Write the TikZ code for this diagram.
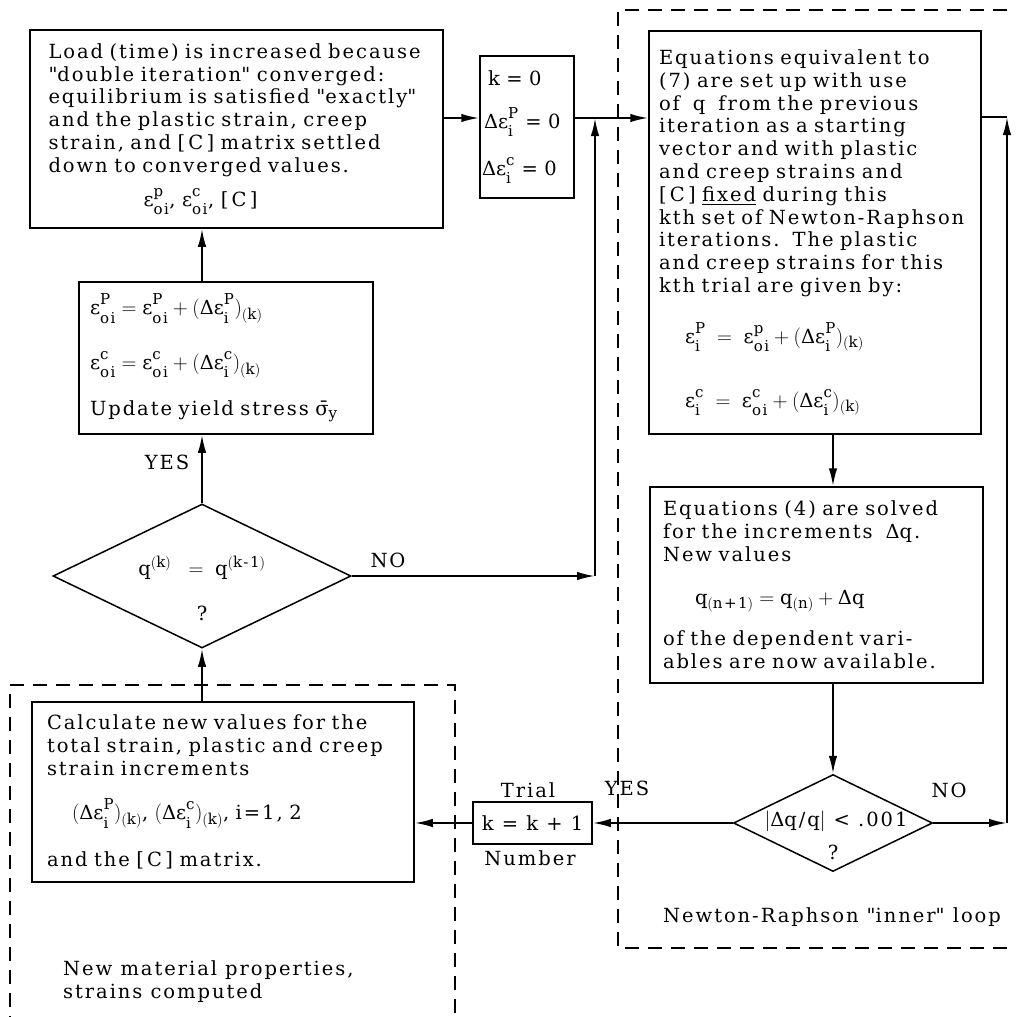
\documentclass[tikz,border=0pt]{standalone}
\usepackage{amsmath}
\usepackage{fontspec}
\setmainfont[LetterSpace=10]{DejaVu Serif}
\usetikzlibrary{arrows.meta,shapes.geometric}
\DeclareMathSizes{19.5}{19.5}{15}{12}
\font\dqfont="DejaVu Serif" at 19.5pt
\newcommand{\dq}{{\dqfont\char34}}
\newcommand{\Ep}[2]{\text{ε}^{\raisebox{2.5pt}{$\scriptstyle\text{#1}$}}_{\raisebox{-3pt}{$\scriptstyle\text{#2}$}}}
\newcommand{\Dl}{\text{Δ}}
\tikzset{
  every node/.style={font=\fontsize{19.5}{22.8}\selectfont, execute at begin node={\lineskiplimit=-100pt\relax}},
  box/.style={draw, line width=1.5pt, rectangle, inner sep=0pt, align=left},
  dia/.style={draw, diamond, line width=1.5pt, inner sep=0pt},
  conn/.style={line width=2pt},
  arr/.style={conn, -{Latex[length=18pt,width=8.5pt]}},
  grp/.style={line width=1.2pt, dash pattern=on 14pt off 9pt},
  lbl/.style={inner sep=0pt}
}
\begin{document}
\begin{tikzpicture}[x=1pt,y=-1pt]
\useasboundingbox (0,0) rectangle (1016,1017);

% dashed groups
\draw[grp] (10,1030) -- (10,685) -- (455,685) -- (455,1030);
\draw[grp] (1030,10) -- (618,10) -- (618,948) -- (1030,948);

% boxes
\node[box, minimum width=413pt, minimum height=198pt, text width=376pt] (load) at (236.5,129)
 {Load (time) is increased because\\
  \dq double iteration\dq{} converged:\\
  equilibrium is satisfied \dq exactly\dq\\
  and the plastic strain, creep\\
  strain, and [\,C\,] matrix settled\\
  down to converged values.\\[11pt]
  \hspace*{95pt}$\Ep{p}{oi}$, $\Ep{c}{oi}$, [\,C\,]};

\node[box, minimum width=94pt, minimum height=142pt, text width=90pt] (kzero) at (527,127)
 {\hspace*{6pt}k = 0\\[20pt]
  \hspace*{2pt}$\Dl\Ep{P}{i}$ = 0\\[24pt]
  $\Dl\Ep{c}{i}$ = 0};

\node[box, minimum width=332pt, minimum height=403pt, text width=312pt] (eqs) at (815,232.5)
 {Equations equivalent to\\
  (7) are set up with use\\
  of\ \ q\ \ from the previous\\
  iteration as a starting\\
  vector and with plastic\\
  and creep strains and\\
  {[}\,C\,] \underline{fixed} during this\\
  kth set of Newton-Raphson\\
  iterations.\ \ The plastic\\
  and creep strains for this\\
  kth trial are given by:\\[28pt]
  \hspace*{26pt}$\Ep{P}{i} \;=\; \Ep{p}{oi} + (\Dl\Ep{P}{i})_{(\text{k})}$\\[41pt]
  \hspace*{26pt}$\Ep{c}{i} \;=\; \Ep{c}{oi} + (\Dl\Ep{c}{i})_{(\text{k})}$};

\node[box, minimum width=333pt, minimum height=196pt, text width=307pt] (solve) at (816.5,585)
 {Equations (4) are solved\\
  for the increments\ \ \Dl q.\\
  New values\\[20pt]
  \hspace*{32pt}$\text{q}_{(\text{n+1})} = \text{q}_{(\text{n})} + \Dl\text{q}$\\[19pt]
  of the dependent vari-\\
  ables are now available.};

\node[box, minimum width=294pt, minimum height=152pt, text width=272pt] (update) at (226,358)
 {$\Ep{P}{oi} = \Ep{P}{oi} + (\Dl\Ep{P}{i})_{(\text{k})}$\\[32pt]
  $\Ep{c}{oi} = \Ep{c}{oi} + (\Dl\Ep{c}{i})_{(\text{k})}$\\[23pt]
  Update yield stress $\text{σ̄}_{\text{y}}$};

\node[dia, minimum width=298pt, minimum height=144pt] (test) at (202,576) {};
\node[lbl] (testtxt) at (202,568) {$\text{q}^{(\text{k})}\;\;=\;\text{q}^{(\text{k-1})}$};
\node[lbl] (testq) at (202,613) {?};

\node[dia, minimum width=199pt, minimum height=97pt] (chk) at (833,823) {};
\node[lbl] (chktxt) at (836,821) {$|$\Dl q/q$|$ < .001};
\node[lbl] (chkq) at (833,852) {?};

\node[box, minimum width=382pt, minimum height=180pt, text width=352pt] (calc) at (223,792)
 {Calculate new values for the\\
  total strain, plastic and creep\\
  strain increments\\[22pt]
  \hspace*{25pt}$(\Dl\Ep{P}{i})_{(\text{k})}$, $(\Dl\Ep{c}{i})_{(\text{k})}$, i=1, 2\\[24pt]
  and the [\,C\,] matrix.};

\node[box, minimum width=119pt, minimum height=42pt] (kinc) at (532.5,823) {k = k + 1};
\node[lbl] (trial) at (528,790) {Trial};
\node[lbl] (number) at (530,858) {Number};

% labels
\node[lbl] (yes1) at (167,462) {YES};
\node[lbl] (no1) at (388,560) {NO};
\node[lbl] (yes2) at (627,788) {YES};
\node[lbl] (no2) at (949,790) {NO};
\node[lbl] (nrlbl) at (832,917) {Newton-Raphson \dq inner\dq{} loop};
\node[lbl, anchor=west, align=left] (matlbl) at (63,982) {New material properties,\\ strains computed};

% connectors
\coordinate (rowtop) at (0,118);
\coordinate (jn) at (595,118);
\coordinate (c1) at (595,576);
\coordinate (c2) at (1007,823);
\coordinate (c3) at (1007,117);

\draw[arr] (load.east |- rowtop) -- (kzero.west |- rowtop);
\draw[arr] (kzero.east |- rowtop) -- (eqs.west |- rowtop);
\draw[arr] (test.east) -- (c1);
\draw[arr] (c1) -- (jn);
\draw[arr] (chk.east) -- (c2);
\draw[arr] (c2) -- (c3);
\draw[conn] (c3) -- (eqs.east |- c3);
\draw[arr] (eqs.south -| chk) -- (solve.north -| chk);
\draw[arr] (solve.south -| chk) -- (chk.north);
\draw[arr] (chk.west) -- (kinc.east);
\draw[arr] (kinc.west) -- (calc.east |- kinc.west);
\draw[arr] (calc.north -| test) -- (test.south);
\draw[arr] (test.north) -- (update.south -| test);
\draw[arr] (update.north -| test) -- (load.south -| test);
\end{tikzpicture}
\end{document}
